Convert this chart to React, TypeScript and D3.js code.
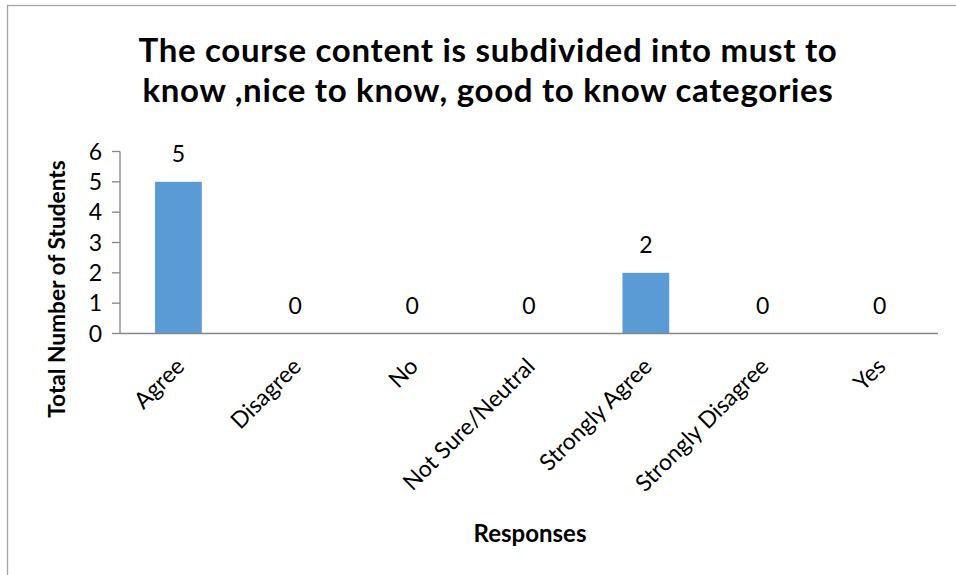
import React from "react";
import * as d3 from "d3";

const titleLines = [
  "The course content is subdivided into must to",
  "know ,nice to know, good to know categories",
];
const categories = [
  "Agree",
  "Disagree",
  "No",
  "Not Sure/Neutral",
  "Strongly Agree",
  "Strongly Disagree",
  "Yes",
];
const values = [5, 0, 0, 0, 2, 0, 0];
const yTicks = [0, 1, 2, 3, 4, 5, 6];
const yTitle = "Total Number of Students";
const xTitle = "Responses";

const FONT = "Lato, 'Open Sans', sans-serif";

export default function App() {
  const W = 956;
  const H = 575;
  const left = 120;
  const right = 938;
  const top = 151.5;
  const bottom = 333.5;

  const x = d3.scaleBand<string>().domain(categories).range([left, right]).padding(0);
  const y = d3.scaleLinear().domain([0, 6]).range([bottom, top]);
  const barW = x.bandwidth() * 0.4;

  return (
    <svg
      width={W}
      height={H}
      style={{ position: "absolute", left: 0, top: 0, background: "#fff" }}
      fontFamily={FONT}
    >
      <rect x={0} y={0} width={W} height={H} fill="#fff" />
      <rect x={7.5} y={5.5} width={1200} height={1200} fill="none" stroke="#a6a6a6" strokeWidth={1.3} />
      {titleLines.map((t, i) => (
        <text
          key={i}
          x={488}
          y={62 + i * 40}
          textAnchor="middle"
          fontWeight="bold"
          fontSize={33}
          letterSpacing={0.7}
          fill="#000"
        >
          {t}
        </text>
      ))}
      {categories.map((c, i) => {
        const cx = (x(c) as number) + x.bandwidth() / 2;
        return (
          <g key={c}>
            {values[i] > 0 && (
              <rect
                x={cx - barW / 2}
                y={y(values[i])}
                width={barW}
                height={y(0) - y(values[i])}
                fill="#5b9bd5"
              />
            )}
            <text x={cx} y={y(values[i]) - 20} textAnchor="middle" fontSize={23} fill="#000">
              {values[i]}
            </text>
            <text
              transform={`translate(${cx - 4},${bottom + 23}) rotate(-45)`}
              textAnchor="end"
              dy="0.7em"
              fontSize={23}
              fill="#000"
            >
              {c}
            </text>
          </g>
        );
      })}
      <line x1={left} x2={left} y1={top} y2={bottom} stroke="#868686" strokeWidth={1.3} />
      {yTicks.map((t) => (
        <g key={t}>
          <line x1={left - 8} x2={left} y1={y(t)} y2={y(t)} stroke="#868686" strokeWidth={1.3} />
          <text x={102} y={y(t)} dy="0.36em" textAnchor="end" fontSize={23} fill="#000">
            {t}
          </text>
        </g>
      ))}
      <line x1={left} x2={right} y1={bottom} y2={bottom} stroke="#868686" strokeWidth={1.3} />
      <text
        transform={`translate(65,289) rotate(-90)`}
        textAnchor="middle"
        fontWeight="bold"
        fontSize={22.7}
        fill="#000"
      >
        {yTitle}
      </text>
      <text x={530} y={542} textAnchor="middle" fontWeight="bold" fontSize={24} fill="#000">
        {xTitle}
      </text>
    </svg>
  );
}
